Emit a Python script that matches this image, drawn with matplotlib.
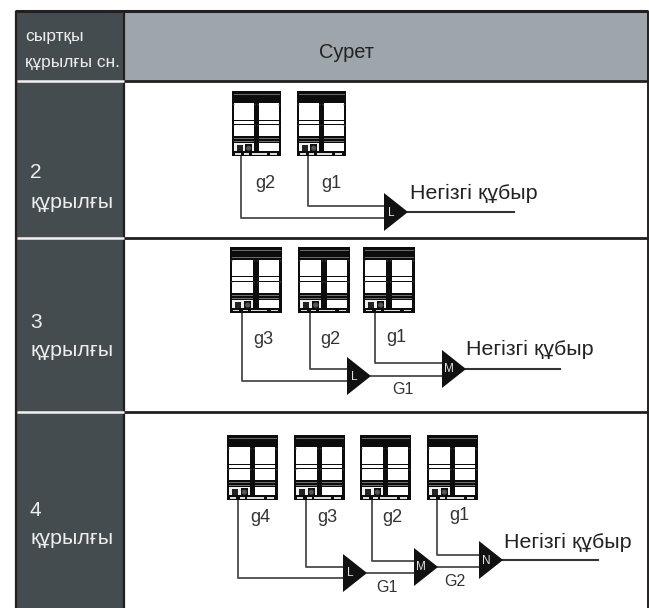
"""Outdoor unit piping table, drawn in pixel coordinates of the reference."""

import matplotlib
matplotlib.use("Agg")
from matplotlib import pyplot as plt
from matplotlib.patches import Rectangle, Polygon, Circle

plt.rcParams['font.family'] = ['Liberation Sans', 'DejaVu Sans']

# texts
header_left = ["сыртқы", "құрылғы сн."]
header_right = "Сурет"
row_numbers = ["2", "3", "4"]
row_word = "құрылғы"
main_pipe = "Негізгі құбыр"
unit_labels = [["g2", "g1"], ["g3", "g2", "g1"], ["g4", "g3", "g2", "g1"]]
joint_labels = [["L"], ["L", "M"], ["L", "M", "N"]]
link_labels = [[], ["G1"], ["G1", "G2"]]

# layout, pixels
dark = "#454c4f"
grey = "#9ea5ab"
line = "#231f20"
pipe = "#4a4a4a"
left, col, right = 16, 124, 648
row_y = [10.5, 81, 237.5, 412, 608]
number_y = [173, 323, 511]
word_y = [202, 350, 538]

unit_x = [[232, 297], [230, 298, 363], [227, 294, 360, 427]]
unit_top = [91, 247, 435]
unit_w = [49, 52, 51]
unit_h = [65, 66, 65]
pipe_x = [[241, 308], [242, 310, 375], [238, 306, 372, 437]]
pipe_y = [[218, 206], [381, 369, 363], [578, 567, 561, 555]]
joint_left = [[384], [347, 442], [343, 414, 479]]
joint_mid = [[212], [376, 369], [573, 567, 560]]
main_end = [514, 560, 598]
main_text = [(410, 193), (466, 349), (504, 542)]
unit_text = [[(265, 183), (331, 183)], [(263, 339), (330, 339), (396, 338)],
             [(260, 517), (327, 517), (392, 517), (459, 516)]]
link_text = [[], [(403, 389)], [(387, 588), (455, 582)]]

fig = plt.figure(figsize=(6.49, 6.08), dpi=100)
ax = fig.add_axes([0, 0, 1, 1])
ax.set_xlim(0, 649)
ax.set_ylim(608, 0)
ax.axis("off")


def box(x, y, w, h, color, z=3):
    ax.add_patch(Rectangle((x, y), w, h, fc=color, ec="none", zorder=z))


def draw_unit(x, y, w, h):
    box(x, y, w, h, "#0c0c0c", 2)
    # top grille
    for f in (0.05, 0.10, 0.15):
        box(x + 1.5, y + f * h, w - 3, 0.7, "#6a6a6a")
    # two columns of panels
    for px, pw in ((x + 0.045 * w, 0.405 * w), (x + 0.55 * w, 0.40 * w)):
        box(px, y + 0.19 * h, pw, 0.25 * h, "white")
        box(px, y + 0.46 * h, pw, 0.05 * h, "white")
        box(px, y + 0.53 * h, pw, 0.16 * h, "white")
        box(px, y + 0.73 * h, pw, 0.015 * h, "#707070")
        box(px, y + 0.77 * h, pw, 0.012 * h, "#707070")
    box(x + 0.55 * w, y + 0.80 * h, 0.40 * w, 0.13 * h, "white")
    # left lower part, two openings
    box(x + 0.045 * w, y + 0.80 * h, 0.405 * w, 0.13 * h, "#f0f0f0")
    box(x + 0.10 * w, y + 0.83 * h, 0.12 * w, 0.09 * h, "#222222")
    box(x + 0.27 * w, y + 0.82 * h, 0.14 * w, 0.11 * h, "#111111")
    ax.add_patch(Circle((x + 0.34 * w, y + 0.88 * h), 0.05 * w, fc="#555555", ec="none", zorder=3))
    # bottom strip
    for f, g in ((0.06, 0.12), (0.25, 0.10), (0.40, 0.32), (0.78, 0.14)):
        box(x + f * w, y + 0.955 * h, g * w, 0.022 * h, "#dddddd")
    # screws
    for cx in (0.03, 0.47, 0.53, 0.97):
        for cy in (0.21, 0.53):
            ax.add_patch(Circle((x + cx * w, y + cy * h), 0.9, fc="#333333", ec="none", zorder=4))


def draw_joint(x, mid, name):
    ax.add_patch(Polygon([(x, mid - 19), (x + 24, mid), (x, mid + 19)], fc="#111111", ec="none", zorder=4))
    ax.text(x + 7, mid + 0.5, name, color="#e0e0e0", fontsize=8.5, ha="center", va="center", zorder=5)


# table cells
for i in range(4):
    box(left, row_y[i], col - left, row_y[i + 1] - row_y[i], dark, 0)
box(col, row_y[0], right - col, row_y[1] - row_y[0], grey, 0)

ax.plot([left - 1, right], [row_y[0], row_y[0]], color=line, lw=2.2, solid_capstyle="butt")
ax.plot([left, left], [row_y[0], row_y[-1]], color=line, lw=1.6, solid_capstyle="butt")
ax.plot([col, col], [row_y[0], row_y[-1]], color=line, lw=1.6, solid_capstyle="butt")
ax.plot([right, right], [row_y[0], row_y[-1]], color=line, lw=1.4, solid_capstyle="butt")
for y in row_y[1:-1]:
    ax.plot([col, right], [y, y], color=line, lw=2.0, solid_capstyle="butt")
    ax.plot([left + 1, col], [y, y], color="#f2f2f2", lw=1.8, solid_capstyle="butt")

ax.text(25, 36, header_left[0], color="#eeeeee", fontsize=12.5, va="center", ha="left")
ax.text(25, 63, header_left[1], color="#eeeeee", fontsize=12.4, va="center", ha="left")
ax.text(346, 53, header_right, color="#222222", fontsize=14.4, va="center", ha="center")

for num, ny, wy in zip(row_numbers, number_y, word_y):
    ax.text(30, ny, num, color="#eeeeee", fontsize=15, va="center", ha="left")
    ax.text(30, wy, row_word, color="#eeeeee", fontsize=15.4, va="center", ha="left")

# the three diagrams
for r in range(3):
    top = unit_top[r]
    h = unit_h[r]
    joints = joint_left[r]
    mids = joint_mid[r]
    for u in range(len(unit_x[r])):
        draw_unit(unit_x[r][u], top, unit_w[r], h)
        j = max(u - 1, 0)
        ax.plot([pipe_x[r][u], pipe_x[r][u], joints[j]], [top + h, pipe_y[r][u], pipe_y[r][u]],
                color=pipe, lw=1.3, zorder=1)
        ax.text(*unit_text[r][u], unit_labels[r][u], fontsize=13, color="#333333", ha="center", va="center")
    for j, name in enumerate(joint_labels[r]):
        draw_joint(joints[j], mids[j], name)
        if j + 1 < len(joints):
            ax.plot([joints[j] + 24, joints[j + 1]], [mids[j], mids[j]], color=pipe, lw=1.3, zorder=1)
    for pos, name in zip(link_text[r], link_labels[r]):
        ax.text(*pos, name, fontsize=11.5, color="#333333", ha="center", va="center")
    ax.plot([joints[-1] + 24, main_end[r]], [mids[-1], mids[-1]], color="#333333", lw=1.5, zorder=1)
    ax.text(*main_text[r], main_pipe, fontsize=15.4, color="#222222", ha="left", va="center")

fig.savefig("out.png", dpi=100)
